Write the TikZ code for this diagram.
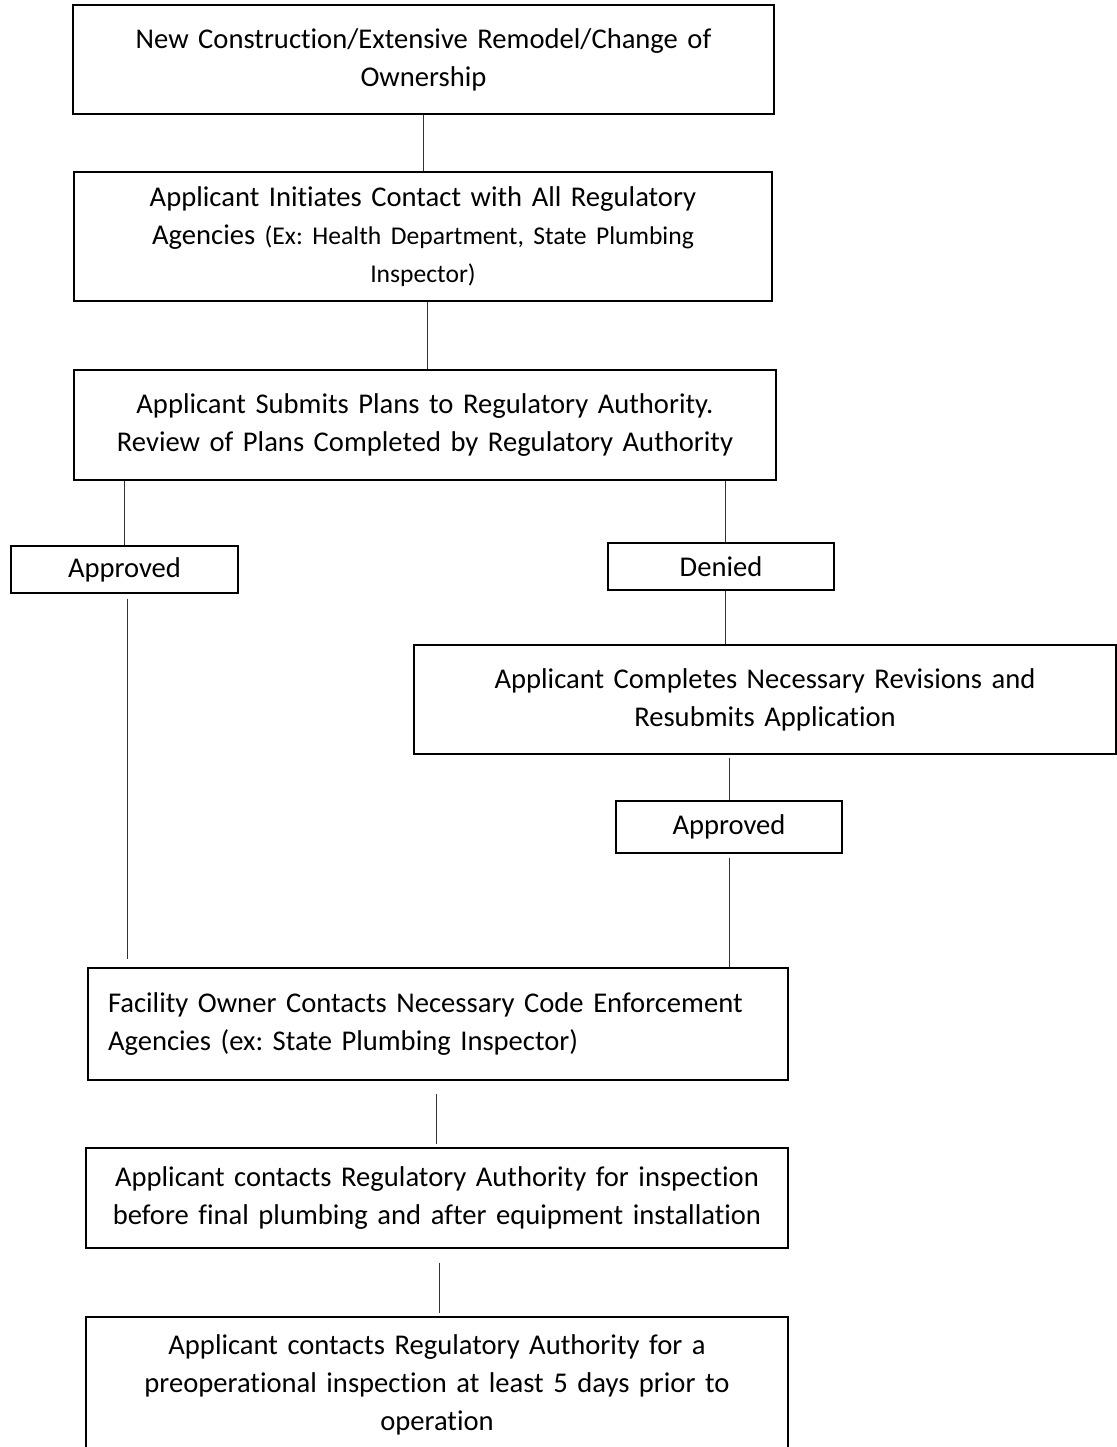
\documentclass[tikz,border=0pt]{standalone}
\usepackage{fontspec}
\setmainfont{Carlito}[RawFeature={-liga}]
\frenchspacing
\begin{document}
\begin{tikzpicture}[x=0.5pt,y=-0.5pt,
  box/.style={draw=black, line width=0.75pt, inner sep=0pt, align=center,
    font=\fontsize{14.3}{19}\selectfont},
  conn/.style={draw=black!80, line width=0.5pt}]
\useasboundingbox[fill=white] (0,0) rectangle (1117,1447);
% boxes
\node[box, minimum width=350.5pt, minimum height=54.5pt, text width=345pt] (b1) at (423.5,59.5)
  {New Construction/Extensive Remodel/Change of\\ Ownership};
\node[box, minimum width=349pt, minimum height=64.5pt, text width=345pt] (b2) at (423,236.5)
  {Applicant Initiates Contact with All Regulatory\\ Agencies {\fontsize{12.8}{19}\selectfont (Ex: Health Department, State Plumbing}\\ {\fontsize{12.8}{19}\selectfont Inspector)}};
\node[box, minimum width=351pt, minimum height=55pt, text width=345pt] (b3) at (425,425)
  {Applicant Submits Plans to Regulatory Authority.\\ Review of Plans Completed by Regulatory Authority};
\node[box, minimum width=113.5pt, minimum height=23.5pt] (a1) at (124.5,569.5) {Approved};
\node[box, minimum width=113pt, minimum height=23.5pt] (d1) at (721,566.5) {Denied};
\node[box, minimum width=351pt, minimum height=54.5pt, text width=345pt] (b4) at (765,699.5)
  {Applicant Completes Necessary Revisions and\\ Resubmits Application};
\node[box, minimum width=113pt, minimum height=26pt] (a2) at (729,827) {Approved};
\node[box, minimum width=350pt, minimum height=56pt, text width=330pt, align=left] (b5) at (438,1024)
  {Facility Owner Contacts Necessary Code Enforcement\\ Agencies (ex: State Plumbing Inspector)};
\node[box, minimum width=351pt, minimum height=50pt, text width=348pt] (b6) at (437,1198)
  {Applicant contacts Regulatory Authority for inspection\\ before final plumbing and after equipment installation};
\node[box, minimum width=351pt, minimum height=68pt, text width=345pt, anchor=north] (b7) at (437,1316)
  {Applicant contacts Regulatory Authority for a\\ preoperational inspection at least 5 days prior to\\ operation};
% connectors
\draw[conn] (b1.south) -- (b1.south |- b2.north);
\draw[conn] ([xshift=2pt]b2.south) -- ([xshift=2pt]b2.south |- b3.north);
\draw[conn] (a1.north) -- (a1.north |- b3.south);
\draw[conn] ([xshift=2pt]d1.north) -- ([xshift=2pt]d1.north |- b3.south);
\draw[conn] ([xshift=2pt]d1.south) -- ([xshift=2pt]d1.south |- b4.north);
\draw[conn] ([yshift=-1.5pt]a2.north |- b4.south) -- (a2.north);
\draw[conn] ([xshift=1.5pt,yshift=-2.5pt]a1.south) -- ([xshift=1.5pt,yshift=4pt]a1.south |- b5.north);
\draw[conn] ([yshift=-2pt]a2.south) -- (a2.south |- b5.north);
\draw[conn] ([xshift=-1pt,yshift=-6.5pt]b5.south) -- ([xshift=-1pt,yshift=1.5pt]b5.south |- b6.north);
\draw[conn] ([xshift=1pt,yshift=-7pt]b6.south) -- ([xshift=1pt,yshift=1.5pt]b6.south |- b7.north);
\end{tikzpicture}
\end{document}
